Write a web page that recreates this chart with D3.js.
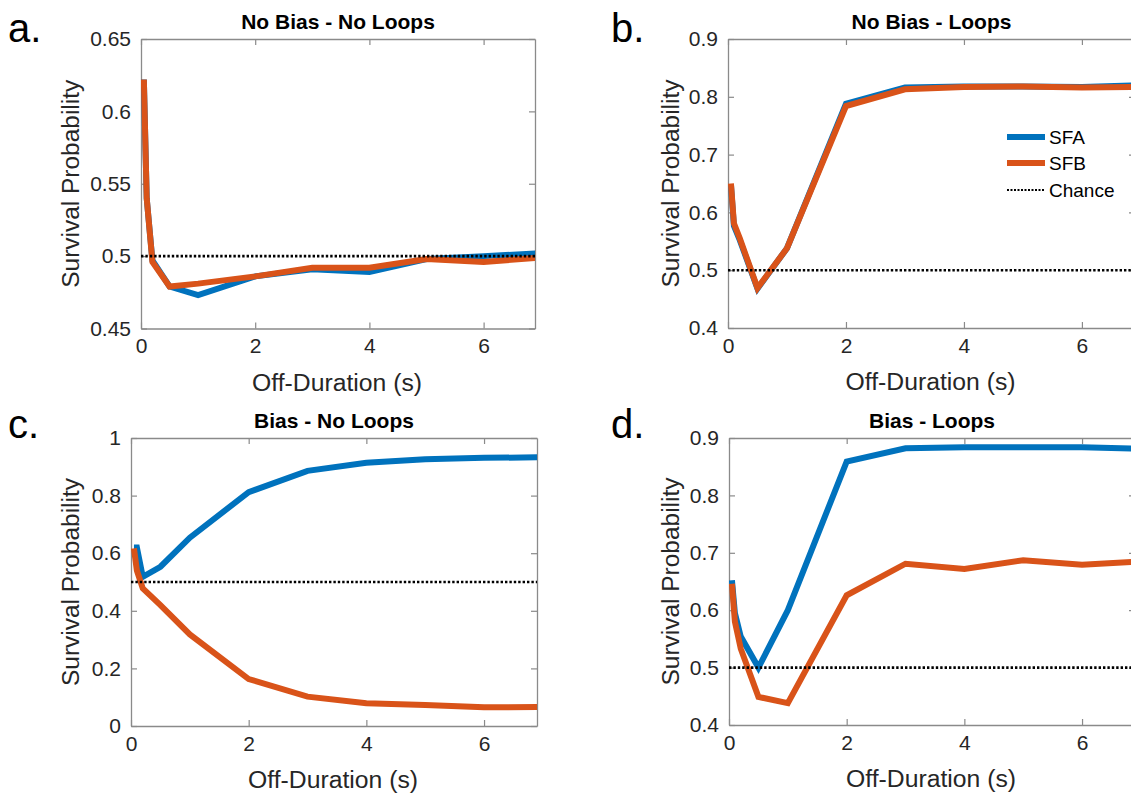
<!DOCTYPE html>
<html><head><meta charset="utf-8">
<script src="https://cdn.jsdelivr.net/npm/d3@7"></script>
<style>body{margin:0;background:#fff}svg{display:block}</style>
</head><body>
<svg id="c" width="1131" height="796"></svg>
<script>
// ---- data ----
const xValues = [0.05, 0.1, 0.2, 0.5, 1, 2, 3, 4, 5, 6, 7];
const seriesNames = ["SFA", "SFB", "Chance"];
const panelTitles = ["No Bias - No Loops", "No Bias - Loops", "Bias - No Loops", "Bias - Loops"];
const panelLetters = ["a.", "b.", "c.", "d."];
const sfaA = [0.622, 0.540, 0.497, 0.479, 0.473, 0.486, 0.491, 0.489, 0.498, 0.500, 0.502];
const sfbA = [0.622, 0.540, 0.496, 0.479, 0.481, 0.486, 0.492, 0.492, 0.498, 0.496, 0.499];
const sfaB = [0.648, 0.577, 0.552, 0.468, 0.538, 0.788, 0.816, 0.818, 0.818, 0.817, 0.820];
const sfbB = [0.650, 0.581, 0.555, 0.469, 0.538, 0.784, 0.813, 0.817, 0.818, 0.816, 0.817];
const sfaC = [0.620, 0.620, 0.518, 0.553, 0.654, 0.812, 0.886, 0.914, 0.926, 0.931, 0.933];
const sfbC = [0.617, 0.540, 0.478, 0.420, 0.318, 0.163, 0.102, 0.079, 0.073, 0.065, 0.066];
const sfaD = [0.652, 0.595, 0.554, 0.500, 0.600, 0.859, 0.882, 0.884, 0.884, 0.884, 0.881];
const sfbD = [0.646, 0.580, 0.533, 0.449, 0.438, 0.626, 0.681, 0.672, 0.687, 0.679, 0.685];
const chanceLevel = 0.5;
const xTicks = [0, 2, 4, 6];
const yTicksA = [0.45, 0.5, 0.55, 0.6, 0.65];
const yTicksB = [0.4, 0.5, 0.6, 0.7, 0.8, 0.9];
const yTicksC = [0, 0.2, 0.4, 0.6, 0.8, 1];
const yTicksD = [0.4, 0.5, 0.6, 0.7, 0.8, 0.9];
const xLabel = "Off-Duration (s)";
const yLabel = "Survival Probability";

// ---- layout / style ----
const colors = {SFA: "#0072BD", SFB: "#D95319"};
const FONT = "'Liberation Sans', Arial, sans-serif";
const panels = [
  {sfa: sfaA, sfb: sfbA, yTicks: yTicksA, box: {l: 141, r: 535, t: 39, b: 328.5}, legend: false},
  {sfa: sfaB, sfb: sfbB, yTicks: yTicksB, box: {l: 728, r: 1135, t: 39, b: 328}, legend: true},
  {sfa: sfaC, sfb: sfbC, yTicks: yTicksC, box: {l: 131, r: 537, t: 438, b: 726}, legend: false},
  {sfa: sfaD, sfb: sfbD, yTicks: yTicksD, box: {l: 729, r: 1135, t: 438, b: 725}, legend: false}
];
const letterPos = [[8, 42], [611, 42], [8, 438], [611, 438]];

const svg = d3.select("#c");
const defs = svg.append("defs");

panels.forEach((p, i) => {
  const B = p.box;
  const x = d3.scaleLinear().domain([0, 6.9]).range([B.l, B.r]);
  const y = d3.scaleLinear().domain(d3.extent(p.yTicks)).range([B.b, B.t]);
  const g = svg.append("g");
  const clipId = "clip" + i;
  defs.append("clipPath").attr("id", clipId).append("rect")
    .attr("x", B.l).attr("y", B.t - 5).attr("width", B.r - B.l).attr("height", B.b - B.t + 10);

  const fmt = d => d3.format("")(+d.toFixed(2));
  const axB = d3.axisBottom(x).tickValues(xTicks).tickSizeInner(-6).tickSizeOuter(0).tickPadding(10).tickFormat(d3.format("d"));
  const axT = d3.axisTop(x).tickValues(xTicks).tickSizeInner(-6).tickSizeOuter(0).tickFormat("");
  const axL = d3.axisLeft(y).tickValues(p.yTicks).tickSizeInner(-6).tickSizeOuter(0).tickPadding(10).tickFormat(fmt);
  const axR = d3.axisRight(y).tickValues(p.yTicks).tickSizeInner(-6).tickSizeOuter(0).tickFormat("");
  const gb = g.append("g").attr("transform", `translate(0,${B.b})`).call(axB);
  const gt = g.append("g").attr("transform", `translate(0,${B.t})`).call(axT);
  const gl = g.append("g").attr("transform", `translate(${B.l},0)`).call(axL);
  const gr = g.append("g").attr("transform", `translate(${B.r},0)`).call(axR);
  [gb, gt, gl, gr].forEach(a => {
    a.select(".domain").attr("stroke", "#8a8a8a").attr("stroke-width", 1.3);
    a.selectAll(".tick line").attr("stroke", "#8a8a8a").attr("stroke-width", 1.2);
    a.selectAll(".tick text").attr("fill", "#262626").attr("font-family", FONT).attr("font-size", 21);
  });

  const line = d3.line().x((d, k) => x(xValues[k])).y(d => y(d));
  const plot = g.append("g").attr("clip-path", `url(#${clipId})`);
  plot.append("path").datum(p.sfa).attr("d", line).attr("fill", "none")
    .attr("stroke", colors.SFA).attr("stroke-width", 6).attr("stroke-linejoin", "miter");
  plot.append("path").datum(p.sfb).attr("d", line).attr("fill", "none")
    .attr("stroke", colors.SFB).attr("stroke-width", 6).attr("stroke-linejoin", "miter");
  plot.append("line").attr("x1", B.l).attr("x2", B.r)
    .attr("y1", y(chanceLevel)).attr("y2", y(chanceLevel))
    .attr("stroke", "#000").attr("stroke-width", 2.6).attr("stroke-dasharray", "2.4,2");

  g.append("text").attr("x", (B.l + B.r) / 2).attr("y", B.t - 10)
    .attr("text-anchor", "middle").attr("font-family", FONT).attr("font-weight", "bold")
    .attr("font-size", 21).attr("fill", "#000").text(panelTitles[i]);
  g.append("text").attr("x", (B.l + B.r) / 2 - 1).attr("y", B.b + 62)
    .attr("text-anchor", "middle").attr("font-family", FONT)
    .attr("font-size", 23).attr("textLength", 170).attr("lengthAdjust", "spacingAndGlyphs")
    .attr("fill", "#262626").text(xLabel);
  const ylx = i % 2 === 0 ? 79 : 679;
  g.append("text").attr("transform", `translate(${ylx},${(B.t + B.b) / 2}) rotate(-90)`)
    .attr("text-anchor", "middle").attr("font-family", FONT)
    .attr("font-size", 23).attr("textLength", 208).attr("lengthAdjust", "spacingAndGlyphs")
    .attr("fill", "#262626").text(yLabel);
  svg.append("text").attr("x", letterPos[i][0]).attr("y", letterPos[i][1])
    .attr("font-family", FONT).attr("font-size", 40).attr("fill", "#000").text(panelLetters[i]);

  if (p.legend) {
    const lg = g.append("g");
    const rows = [137, 163, 190];
    seriesNames.forEach((n, k) => {
      const l = lg.append("line").attr("x1", 1007).attr("x2", 1045).attr("y1", rows[k]).attr("y2", rows[k]);
      if (n === "Chance") l.attr("stroke", "#000").attr("stroke-width", 2).attr("stroke-dasharray", "2,1.5");
      else l.attr("stroke", colors[n]).attr("stroke-width", 6);
      lg.append("text").attr("x", 1049).attr("y", rows[k] + 6.5).attr("font-family", FONT)
        .attr("font-size", 19).attr("fill", "#000").text(n);
    });
  }
});
</script>
</body></html>
